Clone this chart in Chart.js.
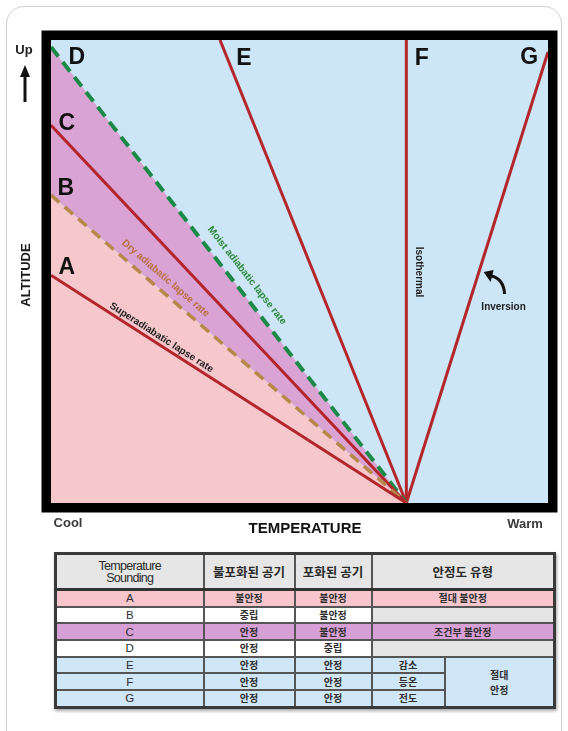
<!DOCTYPE html>
<html>
<head>
<meta charset="utf-8">
<script src="https://cdn.jsdelivr.net/npm/chart.js@4.4.1/dist/chart.umd.min.js"></script>
<style>
  html, body { margin: 0; padding: 0; background: #fff; width: 568px; height: 731px; overflow: hidden; }
  #card { position: absolute; left: 6px; top: 6px; width: 554px; height: 745px; border: 1px solid #cfcfcf; border-radius: 18px; }
  #chartBox { position: absolute; left: 0; top: 0; width: 568px; height: 540px; }
  #tbl { position: absolute; left: 54px; top: 552px; width: 499px; border-collapse: collapse; table-layout: fixed;
         border: 3px solid #3a3a3a; box-shadow: 1px 2px 3px rgba(0,0,0,0.35);
         font-family: "Noto Sans CJK KR", sans-serif; font-weight: bold; color: #2e2e2e; }
  #tbl td, #tbl th { border: 2px solid #555; padding: 0; text-align: center; vertical-align: middle;
                     font-size: 10px; height: 14.7px; line-height: 12px; }
  #tbl th { background: #e6e6e6; height: 33px; font-size: 12.5px; color: #2a2a2a; border-bottom: 3px solid #333; }
  #tbl th.en { font-family: Arial, "Liberation Sans", sans-serif; font-weight: normal; font-size: 12.5px; letter-spacing: -0.7px; line-height: 12px; }
  #tbl td.letter { font-family: Arial, "Liberation Sans", sans-serif; font-weight: normal; font-size: 11.5px; }
  .pink td { background: #f6c6cc; }
  .purple td { background: #d7a0d4; }
  .white td { background: #fff; }
  .blue td { background: #cfe6f6; }
  #tbl td.gray { background: #e4e4e4; }
</style>
</head>
<body>
<div id="card"></div>
<div id="chartBox"><canvas id="lapse" width="568" height="540"></canvas></div>
<table id="tbl"></table>
<script>
(function () {
    "use strict";

    // --- Data -----------------------------------------------------------
    // every sounding starts at the same ground temperature and rises to its own end point
    const soundings = ["A", "B", "C", "D", "E", "F", "G"];
    const baseX = 71.5;                                   // ground temperature (0..100 = cool..warm)
    const topX  = [0,    0,    0,    0,    34,  71.5, 100];
    const topY  = [49.2, 66.5, 81.6, 98.5, 100, 100,  97.4];

    // table
    const tableHead   = ["Temperature\nSounding", "불포화된 공기", "포화된 공기", "안정도 유형"];
    const unsaturated = ["불안정", "중립", "안정", "안정", "안정", "안정", "안정"];
    const saturated   = ["불안정", "불안정", "불안정", "중립", "안정", "안정", "안정"];
    const stability   = ["절대 불안정", "", "조건부 불안정", "", "절대\n안정", "절대\n안정", "절대\n안정"];
    const lapseKind   = ["", "", "", "", "감소", "등온", "전도"];

    // --- Styles ---------------------------------------------------------
    const BLUE = "#cde6f7", PINK = "#f6c8cc", PURPLE = "#d9a3d4";
    const RED = "#b3262c", GREEN = "#1b8a48", TAN = "#b5894a";
    const FONT = 'Arial, "Liberation Sans", sans-serif';

    const lineStyle = {
        A: { color: RED, width: 3 },
        B: { color: TAN, width: 3.5, dash: [11, 7] },
        C: { color: RED, width: 3 },
        D: { color: GREEN, width: 4, dash: [12, 7] },
        E: { color: RED, width: 3 },
        F: { color: RED, width: 3 },
        G: { color: RED, width: 3 }
    };

    function pts(i) {
        return [{ x: topX[i], y: topY[i] }, { x: baseX, y: 0 }];
    }
    const idx = s => soundings.indexOf(s);

    const datasets = [
        // shaded areas: pink below dry adiabat, purple between dry and moist adiabats
        { data: pts(idx("B")), fill: "origin", backgroundColor: PINK, borderWidth: 0, pointRadius: 0 },
        { data: pts(idx("D")), fill: { target: 0 }, backgroundColor: PURPLE, borderWidth: 0, pointRadius: 0 }
    ];
    soundings.forEach((s, i) => {
        const st = lineStyle[s];
        datasets.push({
            label: s,
            data: pts(i),
            fill: false,
            borderColor: st.color,
            borderWidth: st.width,
            borderDash: st.dash || [],
            borderCapStyle: "butt",
            pointRadius: 0
        });
    });

    // --- Annotation plugin ---------------------------------------------
    // letter placement in chart units
    const letterAt = {
        D: [5.2, 96.5], E: [38.8, 96.3], F: [74.6, 96.3], G: [96.2, 96.5],
        C: [3.2, 82.3], B: [3.0, 68.3], A: [3.2, 51.2]
    };
    // text along lines: t = fraction from top end, off = px perpendicular (negative = upper side)
    const lineText = [
        { s: "A", text: "Superadiabatic lapse rate", t: 0.30, off: -7,  color: "#1c1c1c" },
        { s: "B", text: "Dry adiabatic lapse rate",  t: 0.30, off: -12, color: "#b8703e" },
        { s: "D", text: "Moist adiabatic lapse rate", t: 0.52, off: -14, color: "#2a8a3c" }
    ];

    function ends(chart, s) {
        const { x, y } = chart.scales;
        const i = idx(s);
        return [x.getPixelForValue(topX[i]), y.getPixelForValue(topY[i]),
                x.getPixelForValue(baseX), y.getPixelForValue(0)];
    }

    function capText(ctx, txt, cx, cy, size, color) {
        ctx.font = "bold " + size + "px " + FONT;
        ctx.fillStyle = color;
        ctx.textAlign = "center";
        ctx.textBaseline = "alphabetic";
        ctx.fillText(txt, cx, cy + size * 0.358);
    }

    const diagram = {
        id: "diagram",
        beforeDraw(chart) {
            const { ctx, chartArea: a } = chart;
            ctx.save();
            ctx.fillStyle = BLUE;
            ctx.fillRect(a.left, a.top, a.right - a.left, a.bottom - a.top);
            ctx.restore();
        },
        afterDatasetsDraw(chart) {
            const { ctx, chartArea: a, scales: { x, y } } = chart;
            ctx.save();

            // big letters
            Object.keys(letterAt).forEach(s => {
                const p = letterAt[s];
                capText(ctx, s, x.getPixelForValue(p[0]), y.getPixelForValue(p[1]), 23, "#111");
            });

            // labels along the lapse-rate lines
            lineText.forEach(l => {
                const [x0, y0, x1, y1] = ends(chart, l.s);
                const ang = Math.atan2(y1 - y0, x1 - x0);
                ctx.save();
                ctx.translate(x0 + (x1 - x0) * l.t, y0 + (y1 - y0) * l.t);
                ctx.rotate(ang);
                ctx.font = "bold 10px " + FONT;
                ctx.fillStyle = l.color;
                ctx.textAlign = "center";
                ctx.textBaseline = "middle";
                ctx.fillText(l.text, 0, l.off);
                ctx.restore();
            });

            // Isothermal (vertical, beside F)
            {
                const [fx] = ends(chart, "F");
                ctx.save();
                ctx.translate(fx + 12, 272);
                ctx.rotate(Math.PI / 2);
                ctx.font = "bold 10px " + FONT;
                ctx.fillStyle = "#1c1c1c";
                ctx.textAlign = "center";
                ctx.textBaseline = "middle";
                ctx.fillText("Isothermal", 0, 0);
                ctx.restore();
            }

            // Inversion with curved arrow pointing at G
            {
                const [gx0, gy0, gx1, gy1] = ends(chart, "G");
                const t = 0.49;
                const px = gx0 + (gx1 - gx0) * t, py = gy0 + (gy1 - gy0) * t;
                ctx.font = "bold 10px " + FONT;
                ctx.fillStyle = "#1c1c1c";
                ctx.textAlign = "center";
                ctx.textBaseline = "middle";
                ctx.fillText("Inversion", px + 25, py + 34);

                ctx.strokeStyle = "#111";
                ctx.lineWidth = 3;
                ctx.beginPath();
                ctx.moveTo(px + 26, py + 21);
                ctx.quadraticCurveTo(px + 25, py + 6, px + 13, py + 3);
                ctx.stroke();
                ctx.fillStyle = "#111";
                ctx.beginPath();
                ctx.moveTo(px + 5, py - 1);
                ctx.lineTo(px + 15, py - 3);
                ctx.lineTo(px + 12, py + 9);
                ctx.closePath();
                ctx.fill();
            }

            // thick black frame
            const fw = 9.5;
            ctx.strokeStyle = "#000";
            ctx.lineWidth = fw;
            ctx.strokeRect(a.left - fw / 2, a.top - fw / 2, a.right - a.left + fw, a.bottom - a.top + fw);

            // axis words
            capText(ctx, "Up", 24, 49, 13, "#222");
            ctx.strokeStyle = "#111";
            ctx.lineWidth = 3;
            ctx.beginPath();
            ctx.moveTo(25, 74);
            ctx.lineTo(25, 102);
            ctx.stroke();
            ctx.fillStyle = "#111";
            ctx.beginPath();
            ctx.moveTo(25, 65);
            ctx.lineTo(20, 77);
            ctx.lineTo(30, 77);
            ctx.closePath();
            ctx.fill();

            ctx.save();
            ctx.translate(25, 275);
            ctx.rotate(-Math.PI / 2);
            capText(ctx, "ALTITUDE", 0, 0, 13, "#1a1a1a");
            ctx.restore();

            capText(ctx, "Cool", 68, 522, 13, "#3a3a3a");
            capText(ctx, "Warm", 525, 523, 13, "#3a3a3a");
            capText(ctx, "TEMPERATURE", 305, 528, 15, "#111");

            ctx.restore();
        }
    };

    // --- Chart ----------------------------------------------------------
    new Chart(document.getElementById("lapse").getContext("2d"), {
        type: "line",
        data: { datasets: datasets },
        options: {
            responsive: false,
            animation: false,
            layout: { padding: { left: 51, top: 40, right: 20, bottom: 37 } },
            scales: {
                x: { type: "linear", min: 0, max: 100, display: false },
                y: { type: "linear", min: 0, max: 100, display: false }
            },
            plugins: {
                legend: { display: false },
                tooltip: { enabled: false },
                filler: { drawTime: "beforeDatasetsDraw" }
            }
        },
        plugins: [diagram]
    });

    // --- Table ----------------------------------------------------------
    const esc = s => s.split("\n").join("<br>");
    let html = '<colgroup><col style="width:148px"><col style="width:91px"><col style="width:77px">' +
               '<col style="width:73px"><col style="width:110px"></colgroup><tbody>';
    html += "<tr>" + tableHead.map((h, i) =>
        '<th class="' + (i === 0 ? "en" : "") + '"' + (i === 3 ? ' colspan="2"' : "") + ">" + esc(h) + "</th>").join("") + "</tr>";
    const rowClass = ["pink", "white", "purple", "white", "blue", "blue", "blue"];
    soundings.forEach((s, i) => {
        let r = '<tr class="' + rowClass[i] + '"><td class="letter">' + s + "</td><td>" + unsaturated[i] + "</td><td>" + saturated[i] + "</td>";
        if (lapseKind[i]) {
            r += "<td>" + lapseKind[i] + "</td>";
            if (i === 0 || stability[i - 1] !== stability[i] || !lapseKind[i - 1]) {
                let n = 1;
                while (i + n < soundings.length && stability[i + n] === stability[i] && lapseKind[i + n]) n++;
                r += '<td rowspan="' + n + '" style="line-height:15px">' + esc(stability[i]) + "</td>";
            }
        } else if (stability[i]) {
            r += '<td colspan="2">' + stability[i] + "</td>";
        } else {
            r += '<td colspan="2" class="gray"></td>';
        }
        html += r + "</tr>";
    });
    document.getElementById("tbl").innerHTML = html + "</tbody>";
})();
</script>
</body>
</html>
